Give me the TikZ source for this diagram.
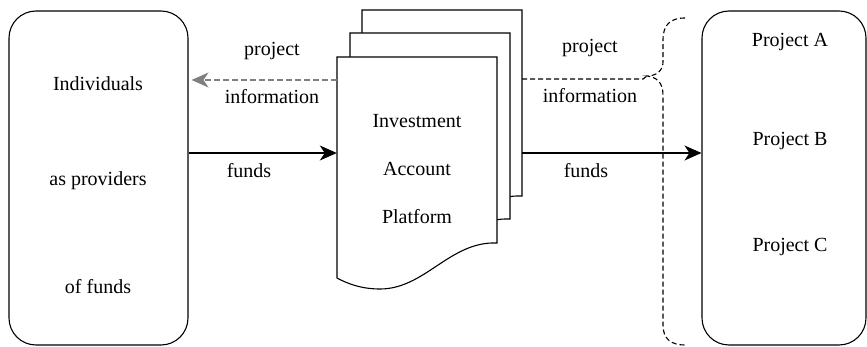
\documentclass[tikz,border=0pt]{standalone}
\usepackage{fontspec}
\newfontfamily\fb{LiberationSerif-Regular.ttf}
\usetikzlibrary{arrows.meta}
\begin{document}
\begin{tikzpicture}[x=1pt,y=-1pt,
  lw/.style={line width=1.1pt},
  box/.style={lw,draw,rounded corners=27pt,minimum width=#1,minimum height=334pt,inner sep=0pt},
  txt/.style={font=\fb\fontsize{20}{24}\selectfont},
  tip/.style={-{Stealth[length=17pt,width=15pt,inset=5pt]}},
  doc/.style={lw,draw,fill=white}]
\useasboundingbox (0,0) rectangle (867,347);
% left box
\node[box=179pt] (left) at (98.5,178) {};
\node[txt] (l1) at (98,84) {Individuals};
\node[txt] (l2) at (98,181) {as providers};
\node[txt] (l3) at (98,287) {of funds};
% right box
\node[box=164pt] (right) at (784,178) {};
\node[txt] (r1) at (790,42) {Project A};
\node[txt] (r2) at (790,141) {Project B};
\node[txt] (r3) at (790,247) {Project C};
% brace
\coordinate (bracetip) at (647,76);
\draw[lw,dash pattern=on 5pt off 3pt] (685,18) .. controls (670,18) and (663,25) .. (663,40) -- (663,62)
  .. controls (663,71) and (656,76) .. (bracetip)
  .. controls (656,77) and (663,82) .. (663,95) -- (663,325)
  .. controls (663,338) and (670,345) .. (685,345);
% documents
\foreach \dx/\dy in {25/-47,13/-24,0/0}{
  \begin{scope}[shift={(\dx,\dy)}]
  \draw[doc] (337,57) -- (497,57) -- (497,243) .. controls (450,241) and (425,289) .. (380,289)
    .. controls (362,289) and (348,284) .. (337,278) -- cycle;
  \end{scope}}
\node[inner sep=0pt,minimum width=160pt,minimum height=186pt] (front) at (417,150) {};
\node[inner sep=0pt,minimum width=160pt,minimum height=186pt] (back) at (442,103) {};
\node[txt] (d1) at (417,121) {Investment};
\node[txt] (d2) at (417,169) {Account};
\node[txt] (d3) at (417,217) {Platform};
% connectors
\coordinate (lin) at (front.west |- 0,80);
\coordinate (lout) at (left.east |- 0,80);
\draw[lw,tip,draw=black!50,dash pattern=on 6pt off 3pt,shorten >=3pt] (lin) -- (lout);
\coordinate (fa) at (left.east |- 0,153);
\coordinate (fb) at (front.west |- 0,153);
\draw[lw,tip] (fa) -- (fb);
\coordinate (ra) at (back.east |- 0,79);
\draw[lw,dash pattern=on 5pt off 3pt] (ra) -- (643,79) -- (bracetip);
\coordinate (rb) at (back.east |- 0,153);
\coordinate (rc) at (right.west |- 0,153);
\draw[lw,tip] (rb) -- (rc);
% labels
\node[txt] (p1) at (272,51) {project};
\node[txt] (i1) at (272,97) {information};
\node[txt] (f1) at (249,171) {funds};
\node[txt] (p2) at (590,48) {project};
\node[txt] (i2) at (590,96) {information};
\node[txt] (f2) at (586,171) {funds};
\end{tikzpicture}
\end{document}
